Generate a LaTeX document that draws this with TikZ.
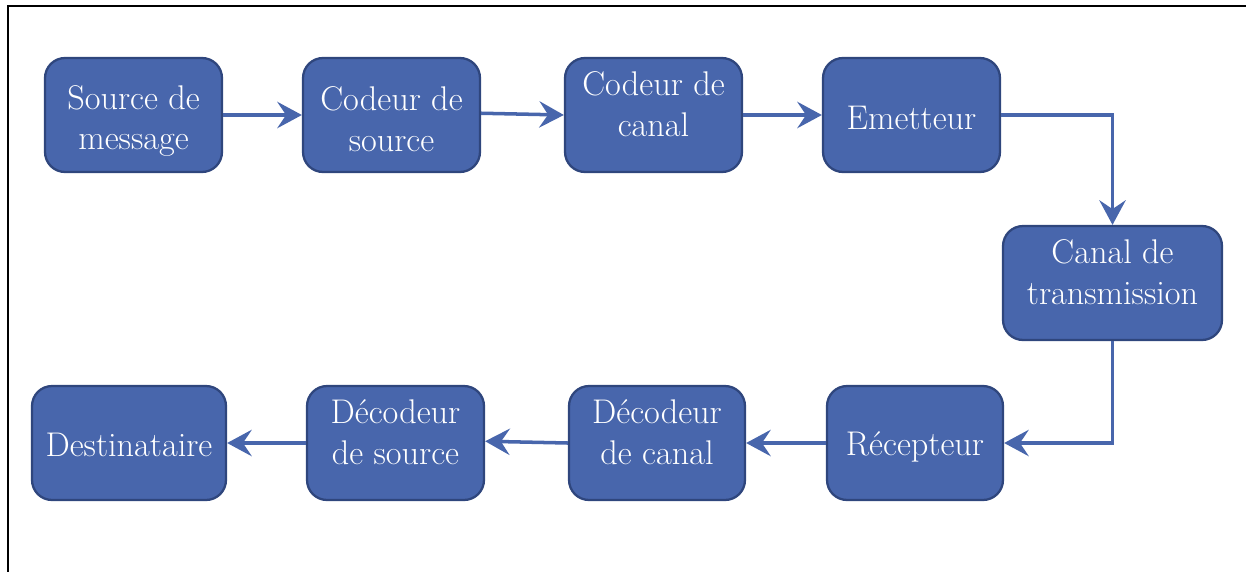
\documentclass[tikz,border=0pt]{standalone}
\usetikzlibrary{arrows.meta}
\definecolor{bloccol}{RGB}{72,102,172}
\definecolor{bordcol}{RGB}{47,70,125}

\begin{document}
\begin{tikzpicture}[x=0.02cm,y=-0.02cm,
  bloc/.style={draw=bordcol,line width=1.3pt,fill=bloccol,rounded corners=0.4cm,
    minimum width=3.54cm,minimum height=2.28cm,inner sep=0pt},
  txt/.style={text=white,align=center,inner sep=0pt,font=\fontsize{19.5}{23}\selectfont},
  fleche/.style={draw=bloccol,line width=2pt,-{Stealth[length=14pt,width=15pt,inset=5pt]}}]

\useasboundingbox (0,0) rectangle (1246,572);
\draw[line width=1.4pt] (1246,6) -- (8,6) -- (8,572);

% ligne du haut
\node[bloc] (src) at (133.5,115) {};
\node[bloc] (csrc) at (391.5,115) {};
\node[bloc] (ccan) at (653.5,115) {};
\node[bloc] (emet) at (911.5,115) {};
\node[bloc,minimum width=4.38cm] (canal) at (1112.5,283) {};

% ligne du bas
\node[bloc,minimum width=3.52cm] (recep) at (915,443) {};
\node[bloc,minimum width=3.52cm] (dcan) at (657,443) {};
\node[bloc] (dsrc) at (395.5,443) {};
\node[bloc,minimum width=3.88cm] (dest) at (129,443) {};

\node[txt] (src-t) at (133.5,121) {Source de\\message};
\node[txt] (csrc-t) at (391.5,119) {Codeur de\\source};
\node[txt] (ccan-t) at (653.5,104) {Codeur de\\canal};
\node[txt] (emet-t) at (911.5,118) {Emetteur};
\node[txt] (canal-t) at (1112.5,272) {Canal de\\transmission};
\node[txt] (recep-t) at (915,447) {Récepteur};
\node[txt] (dcan-t) at (657,432) {Décodeur\\de canal};
\node[txt] (dsrc-t) at (395.5,432) {Décodeur\\de source};
\node[txt] (dest-t) at (129,445) {Destinataire};

\draw[fleche] (src) -- (csrc);
\draw[fleche] ([yshift=1pt]csrc.east) -- (ccan.west);
\draw[fleche] (ccan) -- (emet);
\draw[fleche] (emet.east) -| (canal.north);
\draw[fleche] (canal.south) |- (recep.east);
\draw[fleche] (recep) -- (dcan);
\draw[fleche] (dcan.west) -- ([yshift=1pt]dsrc.east);
\draw[fleche] (dsrc) -- (dest);

\end{tikzpicture}
\end{document}
